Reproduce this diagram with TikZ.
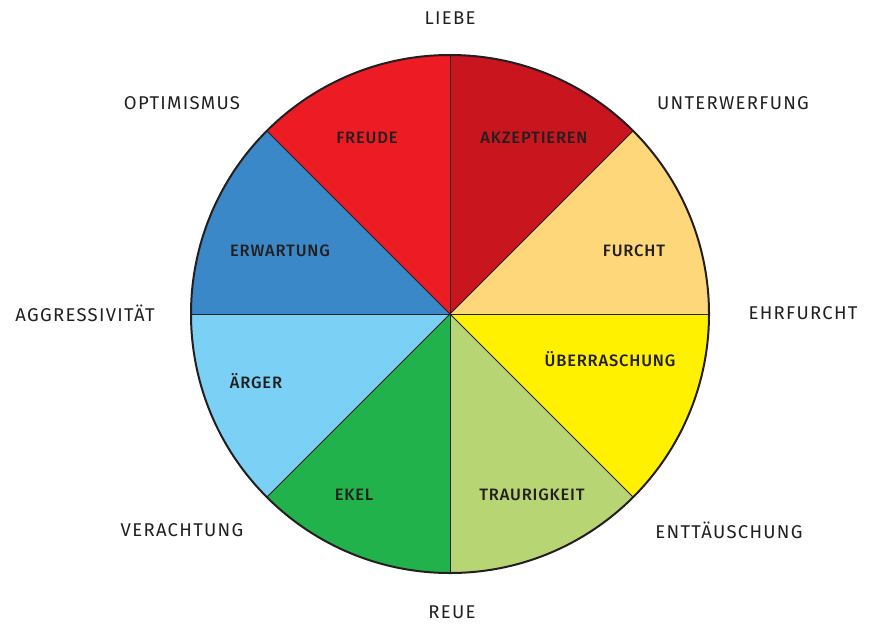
\documentclass[tikz,border=0pt]{standalone}
\usepackage{fontspec}
\setmainfont{Fira Sans}[LetterSpace=5]
\newfontfamily\medfont{Fira Sans Medium}[LetterSpace=5]
\newfontfamily\outfont{Fira Sans}[LetterSpace=7]
\definecolor{txt}{HTML}{231F20}
\definecolor{cFreude}{HTML}{ED1C24}
\definecolor{cAkz}{HTML}{C9151E}
\definecolor{cFurcht}{HTML}{FDD77A}
\definecolor{cUeber}{HTML}{FFF100}
\definecolor{cTrau}{HTML}{B8D573}
\definecolor{cEkel}{HTML}{22B24C}
\definecolor{cAerger}{HTML}{7AD0F5}
\definecolor{cErw}{HTML}{3B88C8}
\tikzset{
  outer/.style={text=txt, font=\outfont\fontsize{18.5}{21}\selectfont, inner sep=0pt},
  inner/.style={text=txt, font=\medfont\fontsize{16.5}{19}\selectfont, inner sep=0pt},
  sector/.style={draw=txt, line width=0.9pt},
}
\begin{document}
\begin{tikzpicture}[x=1pt,y=-1pt]
\useasboundingbox (0,0) rectangle (869,626);
\coordinate (c) at (450,314);
\def\R{259}
% angles in a y-down frame (positive = clockwise on screen)
\foreach \a/\b/\col in {-135/-90/cFreude, -90/-45/cAkz, -45/0/cFurcht, 0/45/cUeber, 45/90/cTrau, 90/135/cEkel, 135/180/cAerger, 180/225/cErw}{
  \fill[\col] (c) -- ++(\a:\R) arc[start angle=\a, end angle=\b, radius=\R] -- cycle;
}
\foreach \a in {0,45,...,315}{
  \draw[sector] (c) -- ++(\a:\R);
}
\draw[txt, line width=2pt] (c) circle[radius=\R];
% inner labels
\node[inner] (freude) at (367,138) {FREUDE};
\node[inner] (akz) at (534,138) {AKZEPTIEREN};
\node[inner] (erw) at (280,251) {ERWARTUNG};
\node[inner] (furcht) at (634,251) {FURCHT};
\node[inner] (aerger) at (256,381) {ÄRGER};
\node[inner] (ueber) at (610,359) {ÜBERRASCHUNG};
\node[inner] (ekel) at (354,495) {EKEL};
\node[inner] (trau) at (532,495) {TRAURIGKEIT};
% outer labels
\node[outer] (liebe) at (450,18) {LIEBE};
\node[outer] (opt) at (182,103) {OPTIMISMUS};
\node[outer] (unter) at (733,103) {UNTERWERFUNG};
\node[outer] (aggr) at (85,313) {AGGRESSIVITÄT};
\node[outer] (ehr) at (803,313) {EHRFURCHT};
\node[outer] (ver) at (182,530) {VERACHTUNG};
\node[outer] (entt) at (729,530) {ENTTÄUSCHUNG};
\node[outer] (reue) at (452,612) {REUE};
\end{tikzpicture}
\end{document}
